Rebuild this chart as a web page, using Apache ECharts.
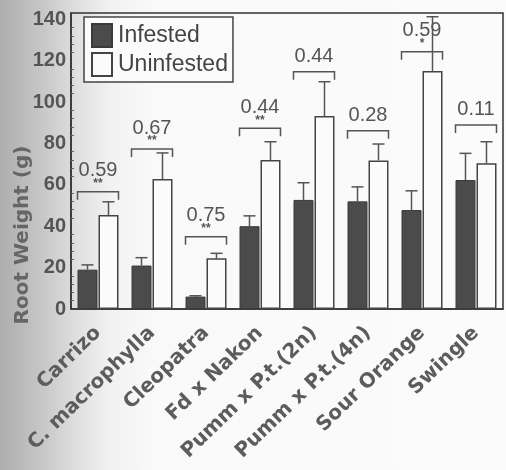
<!DOCTYPE html>
<html>
<head>
<meta charset="utf-8">
<script src="https://cdn.jsdelivr.net/npm/echarts@6/dist/echarts.min.js"></script>
<style>
  html, body { margin: 0; padding: 0; }
  #main { width: 506px; height: 470px; }
</style>
</head>
<body>
<div id="main"></div>
<script>
const categories = ["Carrizo", "C. macrophylla", "Cleopatra", "Fd x Nakon",
  "Pumm x P.t.(2n)", "Pumm x P.t.(4n)", "Sour Orange", "Swingle"];
const infested = [19, 21, 6, 40, 52.7, 52, 47.8, 62.3];
const infestedErr = [21.3, 24.8, 6.4, 45, 61, 59, 57.1, 75.2];
const uninfested = [45.4, 62.8, 24.5, 72, 93.2, 71.8, 115, 70.4];
const uninfestedErr = [51.8, 75.4, 26.9, 80.8, 109.8, 79.7, 141.2, 80.8];
const bracketY = [56.7, 77.3, 34.9, 87.3, 114.6, 86.1, 124.3, 88.9];
const ratioLabels = ["0.59", "0.67", "0.75", "0.44", "0.44", "0.28", "0.59", "0.11"];
const stars = ["**", "**", "**", "**", "", "", "*", ""];

const FONT = "Liberation Sans";
const WIDE = "DejaVu Sans";
const GREY = "#555";
const BAR_W = 20;
const HALF = 10.5;

const chart = echarts.init(document.getElementById("main"));

function errRender(offset) {
  return function (params, api) {
    const top = api.coord([api.value(0), api.value(2)]);
    const base = api.coord([api.value(0), api.value(1)]);
    const x = top[0] + offset;
    return {
      type: "group",
      children: [
        { type: "line", shape: { x1: x, y1: base[1], x2: x, y2: top[1] },
          style: { stroke: GREY, lineWidth: 1.5 } },
        { type: "line", shape: { x1: x - 6, y1: top[1], x2: x + 6, y2: top[1] },
          style: { stroke: GREY, lineWidth: 1.5 } }
      ]
    };
  };
}

const option = {
  backgroundColor: new echarts.graphic.LinearGradient(0, 0, 1, 0, [
    { offset: 0, color: "#adadad" },
    { offset: 0.08, color: "#c6c6c6" },
    { offset: 0.16, color: "#e2e2e2" },
    { offset: 0.22, color: "#f2f2f2" },
    { offset: 0.3, color: "#f9f9f9" },
    { offset: 1, color: "#fbfbfb" }
  ]),
  animation: false,
  grid: { left: 71, right: 3, top: 13, bottom: 161, show: true,
    borderColor: "#333", borderWidth: 1.5, backgroundColor: "transparent" },
  graphic: [
    {
      type: "text", left: 13, top: "middle", rotation: Math.PI / 2,
      style: { text: "Root Weight (g)", font: "bold 20px '" + WIDE + "'", fill: "#666" },
      // centred on the plot's vertical middle
      y: -74
    }
  ],
  legend: {
    orient: "vertical", left: 84, top: 17,
    itemWidth: 20, itemHeight: 23, itemGap: 4,
    padding: [6, 5, 5, 7],
    borderColor: "#444", borderWidth: 1.5,
    backgroundColor: "#fbfbfb",
    icon: "rect",
    data: ["Infested", "Uninfested"],
    textStyle: { fontFamily: FONT, fontSize: 23, color: "#444", padding: [0, 0, 0, 1] }
  },
  xAxis: {
    type: "category",
    data: categories,
    axisLine: { lineStyle: { color: "#333", width: 1.5 } },
    axisTick: { inside: true, length: 5, lineStyle: { color: "#444" } },
    axisLabel: { interval: 0, rotate: 44, margin: 21, fontFamily: WIDE,
      fontSize: 20, fontWeight: "bold", color: "#5c5c5c" }
  },
  yAxis: {
    type: "value",
    min: 0, max: 143, interval: 20,
    splitLine: { show: false },
    axisLine: { show: true, lineStyle: { color: "#333", width: 1.5 } },
    axisTick: { inside: true, length: 5, lineStyle: { color: "#444" } },
    minorTick: { show: true, splitNumber: 5, length: 3, lineStyle: { color: "#666" } },
    axisLabel: { margin: 5, fontFamily: FONT, fontSize: 20, fontWeight: "bold", color: GREY,
      formatter: v => (v % 20 === 0 ? String(v) : "") }
  },
  series: [
    {
      name: "Infested", type: "bar", data: infested,
      barWidth: BAR_W, barGap: "5%",
      itemStyle: { color: "#4b4b4b", borderColor: "#3a3a3a", borderWidth: 1 }
    },
    {
      name: "Uninfested", type: "bar", data: uninfested,
      barWidth: BAR_W, barGap: "5%",
      itemStyle: { color: "#fbfbfb", borderColor: "#444", borderWidth: 1.5 }
    },
    {
      type: "custom", name: "errInf", silent: true, z: 3,
      data: infested.map((v, i) => [i, v, infestedErr[i]]),
      encode: { x: 0, y: [1, 2] },
      renderItem: errRender(-HALF)
    },
    {
      type: "custom", name: "errUn", silent: true, z: 3,
      data: uninfested.map((v, i) => [i, v, uninfestedErr[i]]),
      encode: { x: 0, y: [1, 2] },
      renderItem: errRender(HALF)
    },
    {
      type: "custom", name: "brackets", silent: true, z: 4,
      data: bracketY.map((v, i) => [i, v]),
      encode: { x: 0, y: 1 },
      renderItem: function (params, api) {
        const i = params.dataIndex;
        const p = api.coord([api.value(0), api.value(1)]);
        const x1 = p[0] - HALF - BAR_W / 2;
        const x2 = p[0] + HALF + BAR_W / 2;
        const y = p[1];
        const hasStar = stars[i] !== "";
        const children = [
          { type: "polyline",
            shape: { points: [[x1, y + 8], [x1, y], [x2, y], [x2, y + 8]] },
            style: { stroke: GREY, lineWidth: 1.5, fill: null } },
          { type: "text",
            style: { text: ratioLabels[i], x: p[0], y: y - (hasStar ? 21 : 15),
              align: "center", verticalAlign: "middle",
              font: "20px '" + FONT + "'", fill: GREY } }
        ];
        if (hasStar) {
          children.push({ type: "text",
            style: { text: stars[i], x: p[0], y: y - 8,
              align: "center", verticalAlign: "middle",
              font: "bold 12px '" + FONT + "'", fill: "#555" } });
        }
        return { type: "group", children: children };
      }
    }
  ]
};

chart.setOption(option);
</script>
</body>
</html>
